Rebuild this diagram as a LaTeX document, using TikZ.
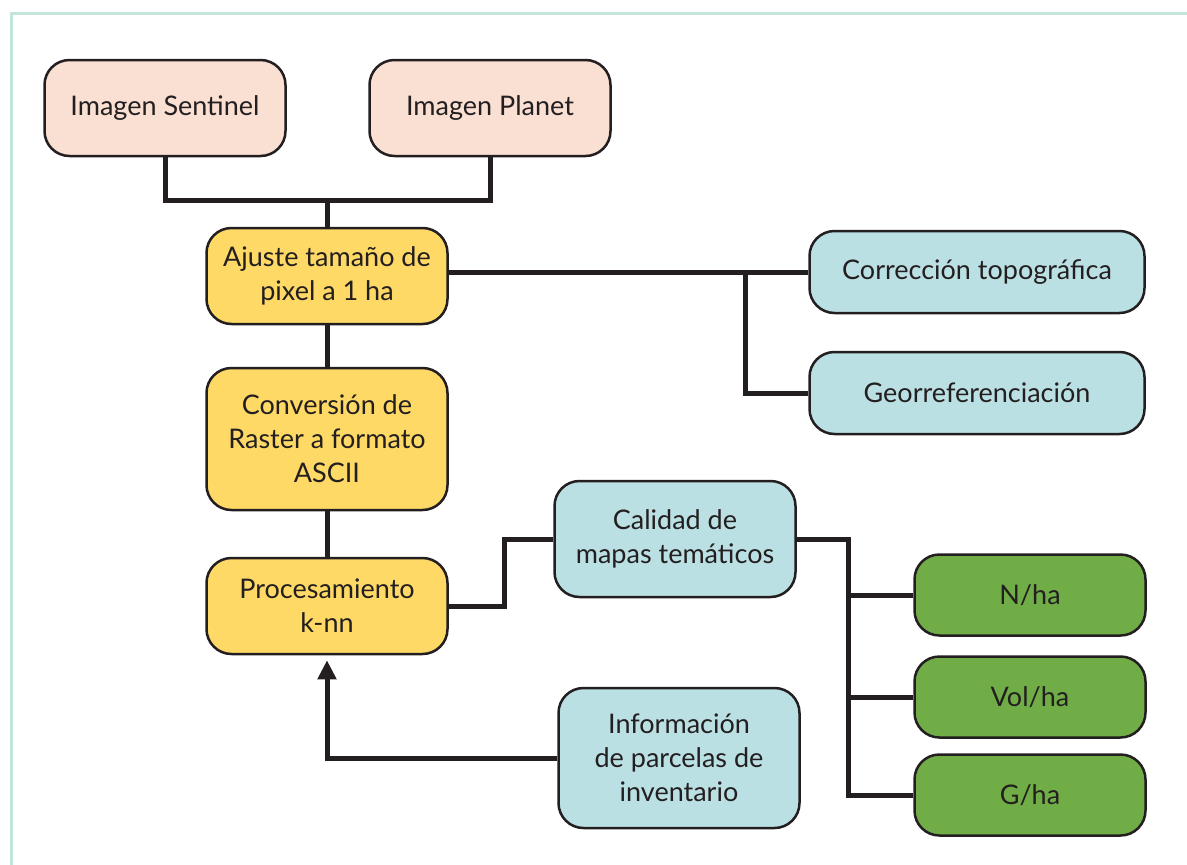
\documentclass[tikz,border=0pt]{standalone}
\usepackage{fontspec}
\setmainfont{Lato}
\usetikzlibrary{arrows.meta}

\definecolor{peach}{HTML}{F9E0D3}
\definecolor{sand}{HTML}{FED966}
\definecolor{sky}{HTML}{BBE0E3}
\definecolor{leaf}{HTML}{70AD47}
\definecolor{mint}{HTML}{C3E5D9}
\definecolor{ink}{HTML}{231F20}

\tikzset{
  box/.style={draw=ink, line width=2.5pt, rounded corners=25pt, align=center,
    inner sep=0pt, text=ink, font=\fontsize{27}{34}\selectfont},
  wide/.style={box, minimum width=241pt, minimum height=96pt},
  flat/.style={box, minimum width=335pt, minimum height=82pt},
  small/.style={box, minimum width=231pt, minimum height=81pt},
  link/.style={draw=ink, line width=5pt}
}

\begin{document}
\begin{tikzpicture}[x=1pt, y=-1pt]
\useasboundingbox (0,0) rectangle (1187,865);
\draw[mint, line width=3pt] (11.5,865) -- (11.5,13.5) -- (1187,13.5);

% source images
\node[wide, fill=peach] (sent) at (165,108) {Imagen Sentinel};
\node[wide, fill=peach] (plan) at (490,108) {Imagen Planet};

% main chain
\node[wide, fill=sand] (ajus) at (327,276) {Ajuste tamaño de\\pixel a 1 ha};
\node[wide, fill=sand, minimum height=142pt] (conv) at (327,439)
  {Conversión de\\Raster a formato\\ASCII};
\node[wide, fill=sand] (proc) at (327,606) {Procesamiento\\k-nn};

% side boxes
\node[flat, fill=sky] (corr) at (977,272) {Corrección topográfica};
\node[flat, fill=sky] (geor) at (977,393) {Georreferenciación};
\node[wide, fill=sky, minimum height=116pt] (cali) at (675,539)
  {Calidad de\\mapas temáticos};
\node[wide, fill=sky, minimum height=140pt] (info) at (679,758)
  {Información\\de parcelas de\\inventario};

% outputs
\node[small, fill=leaf] (nha) at (1030,595) {N/ha};
\node[small, fill=leaf] (vha) at (1030,697) {Vol/ha};
\node[small, fill=leaf] (gha) at (1030,795) {G/ha};

% connectors
\coordinate (top) at (327,200);
\coordinate (bj) at (745,0);
\coordinate (gj) at (848,0);

\path[link] (sent.south) |- (top) -| (plan.south);
\path[link] (top) -- (ajus.north);
\path[link] (ajus.south) -- (conv.north);
\path[link] (conv.south) -- (proc.north);
\path[link] (corr.west -| ajus.east) -- (corr.west);
\path[link] (bj |- corr.west) |- (geor.west);
\path[link] (proc.east) -- ++(56,0) |- (cali.west);
\path[link] (cali.east) -| (gj |- gha.west) -- (gha.west);
\path[link] (gj |- nha.west) -- (nha.west);
\path[link] (gj |- vha.west) -- (vha.west);
\path[link, -{Triangle[width=18pt, length=19pt]}, shorten >=5pt]
  (info.west) -| (proc.south);
\end{tikzpicture}
\end{document}
